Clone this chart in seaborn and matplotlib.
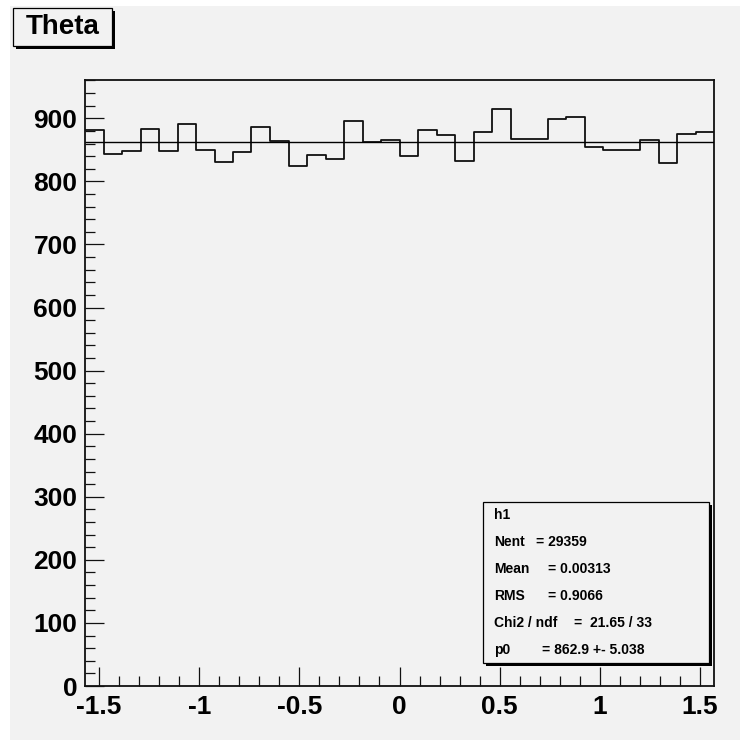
import numpy as np
import pandas as pd
import matplotlib
matplotlib.use("Agg")
import matplotlib.pyplot as plt
from matplotlib.ticker import MultipleLocator, FixedLocator
from matplotlib.patches import Rectangle
import seaborn as sns

# Histogram of theta: 34 equal bins over [-pi/2, pi/2]
n_bins = 34
x_min, x_max = -np.pi / 2, np.pi / 2
counts = [882, 844, 848, 883, 848, 891, 850, 831, 847, 887,
          864, 824, 842, 835, 895, 862, 866, 840, 882, 874,
          833, 879, 915, 867, 867, 899, 902, 854, 850, 850,
          865, 829, 875, 879]

# Constant fit result and summary numbers
fit_p0 = 862.9
fit_p0_err = 5.038
n_entries = 29359
mean_val = 0.00313
rms_val = 0.9066
chi2 = 21.65
ndf = 33

x_ticks = [-1.5, -1, -0.5, 0, 0.5, 1, 1.5]
x_tick_labels = ["-1.5", "-1", "-0.5", "0", "0.5", "1", "1.5"]
y_ticks = [0, 100, 200, 300, 400, 500, 600, 700, 800, 900]

edges = np.linspace(x_min, x_max, n_bins + 1)
centers = 0.5 * (edges[:-1] + edges[1:])
df = pd.DataFrame({"theta": centers, "entries": counts})

sns.set_style("ticks")
plt.rcParams["font.family"] = ["Liberation Sans", "DejaVu Sans"]
plt.rcParams["font.weight"] = "bold"

bg = "#f2f2f2"
ink = "#111111"
W = H = 740.0

fig = plt.figure(figsize=(7.4, 7.4), dpi=100, facecolor="white")


def fx(px):
    return px / W


def fy(py):
    return 1.0 - py / H


# canvas background
fig.patches.append(Rectangle((fx(10), 0), 1 - fx(10), fy(6), transform=fig.transFigure,
                             facecolor=bg, edgecolor="none", zorder=-5))

ax = fig.add_axes([fx(85), fy(686), fx(714) - fx(85), fy(80) - fy(686)])
ax.set_facecolor(bg)
ax.set_zorder(1)

sns.histplot(data=df, x="theta", weights="entries", bins=n_bins,
             binrange=(x_min, x_max), element="step",
             fill=False, color=ink, linewidth=1.3, ax=ax)
ax.hlines(fit_p0, x_min, x_max, color="black", linewidth=1.0, zorder=3)

ax.set_xlim(x_min, x_max)
ax.set_ylim(0, 1.05 * max(counts))
ax.set_xlabel("")
ax.set_ylabel("")

ax.xaxis.set_major_locator(FixedLocator(x_ticks))
ax.set_xticklabels(x_tick_labels)
ax.xaxis.set_minor_locator(MultipleLocator(0.1))
ax.yaxis.set_major_locator(FixedLocator(y_ticks))
ax.yaxis.set_minor_locator(MultipleLocator(20))

ax.tick_params(axis="both", which="major", direction="in", length=13.5, width=0.9,
               color=ink, labelsize=19, labelcolor="black")
ax.tick_params(axis="both", which="minor", direction="in", length=7, width=0.9, color=ink)
ax.tick_params(axis="x", which="major", pad=6.5)
ax.tick_params(axis="y", which="major", pad=5.5)
ax.tick_params(top=False, right=False, which="both")
for lab in ax.get_xticklabels() + ax.get_yticklabels():
    lab.set_fontweight("bold")

for sp in ax.spines.values():
    sp.set_visible(True)
    sp.set_color(ink)
    sp.set_linewidth(1.3)


def shadow_box(x0, y0, x1, y1, off=3):
    fig.patches.append(Rectangle((fx(x0 + off), fy(y1 + off)), fx(x1) - fx(x0), fy(y0) - fy(y1),
                                 transform=fig.transFigure, facecolor="black",
                                 edgecolor="none", zorder=5))
    fig.patches.append(Rectangle((fx(x0), fy(y1)), fx(x1) - fx(x0), fy(y0) - fy(y1),
                                 transform=fig.transFigure, facecolor=bg,
                                 edgecolor="black", linewidth=0.9, zorder=6))


# title box
shadow_box(13, 8, 112, 46)
fig.text(fx(62.5), fy(27), "Theta", ha="center", va="center", fontsize=20,
         fontweight="bold", color="black", zorder=7)

# statistics box
shadow_box(483, 502, 709, 663)
stat_rows = [
    ("h1", None, 0),
    ("Nent", f"= {n_entries}", 536),
    ("Mean", f"= {mean_val:.5f}", 548),
    ("RMS", f"= {rms_val:.4f}", 548),
    ("Chi2 / ndf", f"=  {chi2:.2f} / {ndf}", 574),
    ("p0", f"= {fit_p0:.1f} +- {fit_p0_err:.3f}", 542),
]
row_y = [515, 542, 569, 596, 623, 650]
for (name, val, vx), yy in zip(stat_rows, row_y):
    fig.text(fx(494), fy(yy), name, ha="left", va="center", fontsize=10,
             fontweight="bold", color="black", zorder=7)
    if val is not None:
        fig.text(fx(vx), fy(yy), val, ha="left", va="center", fontsize=10,
                 fontweight="bold", color="black", zorder=7)

fig.savefig("out.png", dpi=100, facecolor="white")
